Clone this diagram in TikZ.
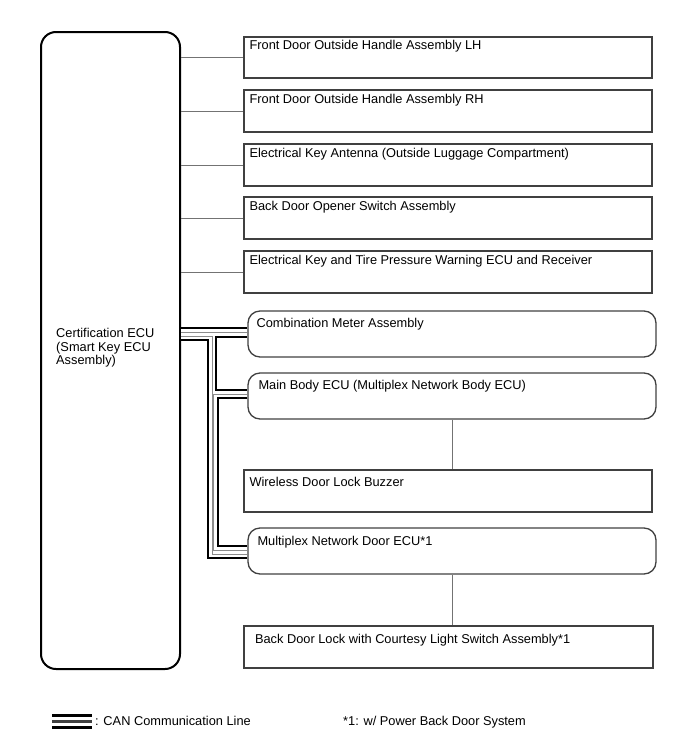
\documentclass[tikz,border=0pt]{standalone}
\usepackage{fontspec}
\setmainfont{Liberation Sans}
\begin{document}
\begin{tikzpicture}[x=1pt,y=-1pt,
  ecubox/.style={draw=black, line width=2pt, rounded corners=15pt, inner sep=0pt},
  sqbox/.style={draw=black!75, line width=1.3pt, minimum width=408pt, inner sep=0pt},
  rdbox/.style={draw=black!75, line width=1.3pt, rounded corners=12pt, minimum width=408pt, minimum height=46pt, inner sep=0pt},
  lbl/.style={anchor=base west, inner sep=0pt, font=\fontsize{12.8}{14}\selectfont},
  conn/.style={draw=black!55, line width=1pt},
  line join=miter, line cap=butt]
\useasboundingbox (0,0) rectangle (688,755);

% main ECU
\node[ecubox, minimum width=139pt, minimum height=637pt] (ecu) at (110.5,350.5) {};
\node[lbl, align=left, font=\fontsize{12.8}{13.5}\selectfont] (ecut) at (56,364.5)
  {Certification ECU\\(Smart Key ECU\\Assembly)};

% plain boxes
\node[sqbox, minimum height=41pt] (b1) at (448,57.5) {};
\node[sqbox, minimum height=42pt] (b2) at (448,111) {};
\node[sqbox, minimum height=42pt] (b3) at (448,165) {};
\node[sqbox, minimum height=42pt] (b4) at (448,218) {};
\node[sqbox, minimum height=42pt] (b5) at (448,272) {};
\node[sqbox, minimum height=42pt] (buz) at (448,491) {};
\node[sqbox, minimum height=42pt, minimum width=409pt] (bdl) at (448.5,647) {};
% rounded boxes
\node[rdbox] (cma) at (452,334) {};
\node[rdbox] (mb) at (452,396) {};
\node[rdbox] (door) at (452,551) {};

% labels
\node[lbl] (t1) at ([shift={(6,13.5)}]b1.north west) {Front Door Outside Handle Assembly LH};
\node[lbl] (t2) at ([shift={(6,14)}]b2.north west) {Front Door Outside Handle Assembly RH};
\node[lbl] (t3) at ([shift={(6,14)}]b3.north west) {Electrical Key Antenna (Outside Luggage Compartment)};
\node[lbl] (t4) at ([shift={(6,14)}]b4.north west) {Back Door Opener Switch Assembly};
\node[lbl] (t5) at ([shift={(6,14)}]b5.north west) {Electrical Key and Tire Pressure Warning ECU and Receiver};
\node[lbl] (t6) at ([shift={(9,17.5)}]cma.north west) {Combination Meter Assembly};
\node[lbl] (t7) at ([shift={(11,17.5)}]mb.north west) {Main Body ECU (Multiplex Network Body ECU)};
\node[lbl] (t8) at ([shift={(6,17.5)}]buz.north west) {Wireless Door Lock Buzzer};
\node[lbl] (t9) at ([shift={(10,18)}]door.north west) {Multiplex Network Door ECU*1};
\node[lbl] (t10) at ([shift={(11.5,18.5)}]bdl.north west) {Back Door Lock with Courtesy Light Switch Assembly*1};

% plain connectors
\foreach \b in {b1,b2,b3,b4,b5}
  \draw[conn] (ecu.east |- \b.west) -- (\b.west);
\draw[conn] (mb.south) -- (mb.south |- buz.north);
\draw[conn] (door.south) -- (door.south |- bdl.north);

% CAN lines
\coordinate (ja) at (180,332.5);   % ECU -> Combination Meter
\coordinate (jb) at (212,336);     % corner of ECU -> Door ECU line
\coordinate (jc) at (213.5,394);   % corner of Main Body -> Door ECU line
\coordinate (mbk) at (mb.west |- jc);
\coordinate (dkb) at (door.west |- 0,554);
\coordinate (dkc) at (door.west |- 0,550.5);
\foreach \w/\c in {10.8/black,6.2/white,0.9/black!45} {
  \draw[line width=\w pt, draw=\c] (ecu.east |- ja) -- (cma.west |- ja);
  \draw[line width=\w pt, draw=\c] (ecu.east |- jb) -- (jb) -- (jb |- dkb) -- (dkb);
  \draw[line width=\w pt, draw=\c] (mbk) -- (jc) -- (jc |- dkc) -- (dkc);
}

% legend
\coordinate (lg1) at (52,721.7);
\coordinate (lg2) at (92,721.7);
\foreach \w/\c in {14.7/black,8.7/white,2.6/black!75}
  \draw[line width=\w pt, draw=\c] (lg1) -- (lg2);
\node[lbl] (lgt) at (95,725) {: CAN Communication Line};
\node[lbl] (note) at (343,725) {*1: w/ Power Back Door System};
\end{tikzpicture}
\end{document}
